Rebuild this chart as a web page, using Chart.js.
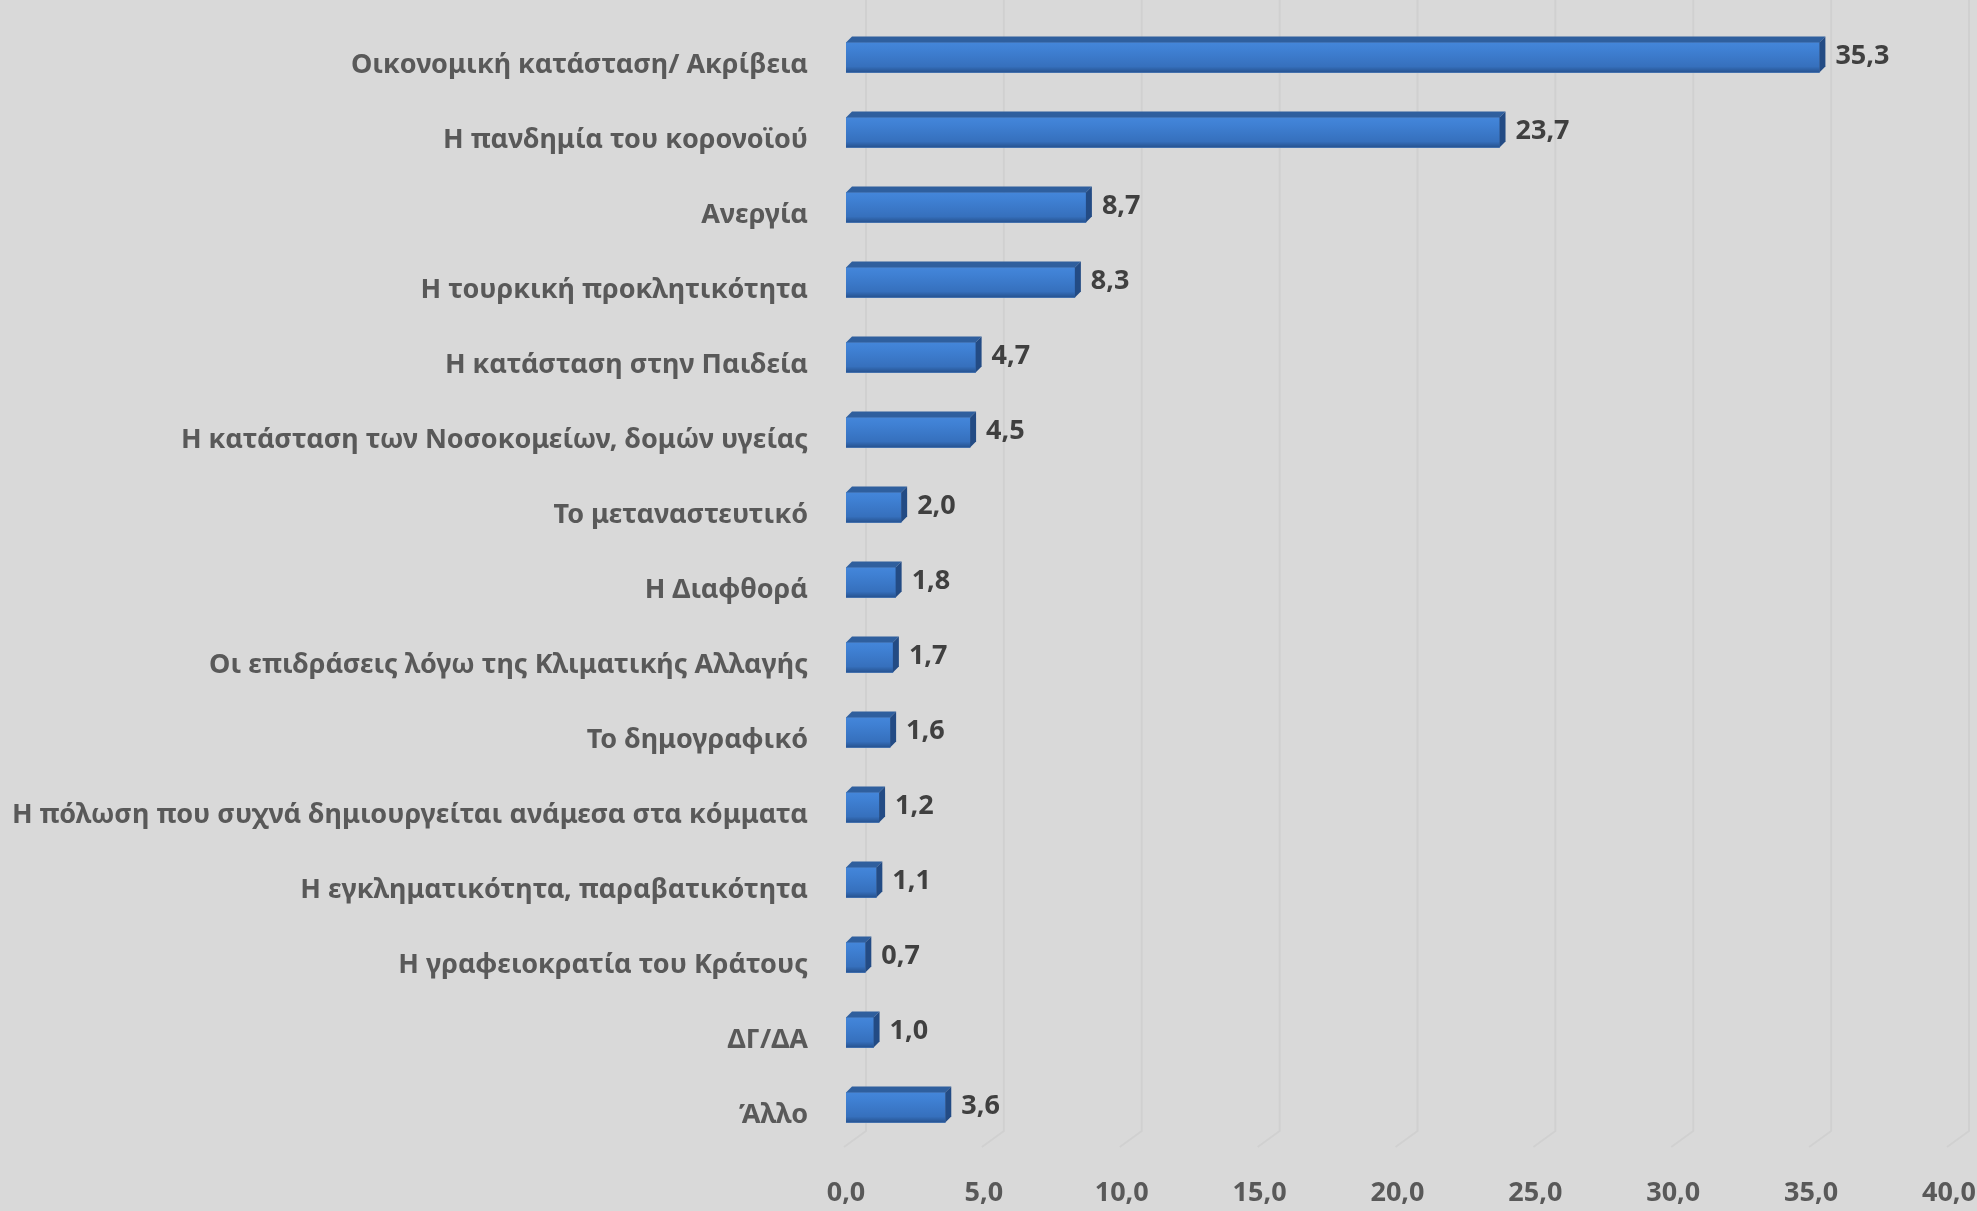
<!DOCTYPE html>
<html>
<head>
<meta charset="utf-8">
<script src="https://cdn.jsdelivr.net/npm/chart.js@4/dist/chart.umd.min.js"></script>
<style>
  html, body { margin: 0; padding: 0; background: #d9d9d9; }
  #wrap { width: 1977px; height: 1211px; }
</style>
</head>
<body>
<div id="wrap"><canvas id="myChart" width="1977" height="1211"></canvas></div>
<script>
const categories = [
  "Οικονομική κατάσταση/ Ακρίβεια",
  "Η πανδημία του κορονοϊού",
  "Ανεργία",
  "Η τουρκική προκλητικότητα",
  "Η κατάσταση στην Παιδεία",
  "Η κατάσταση των Νοσοκομείων, δομών υγείας",
  "Το μεταναστευτικό",
  "Η Διαφθορά",
  "Οι επιδράσεις λόγω της Κλιματικής Αλλαγής",
  "Το δημογραφικό",
  "Η πόλωση που συχνά δημιουργείται ανάμεσα στα κόμματα",
  "Η εγκληματικότητα, παραβατικότητα",
  "Η γραφειοκρατία του Κράτους",
  "ΔΓ/ΔΑ",
  "Άλλο",
];
const values = [35.3, 23.7, 8.7, 8.3, 4.7, 4.5, 2.0, 1.8, 1.7, 1.6, 1.2, 1.1, 0.7, 1.0, 3.6];
const xMin = 0;
const xMax = 40;
const xStep = 5;

const FONT = "'Noto Sans', sans-serif";
const depth = 6;

function fmt(v) {
  return v.toFixed(1).replace(".", ",");
}

// faint back-wall gridlines with a diagonal foot, like the 3D original
const backGrid = {
  id: "backGrid",
  beforeDatasetsDraw(chart) {
    const { ctx, chartArea, scales } = chart;
    const x = scales.x;
    ctx.save();
    ctx.strokeStyle = "rgba(0,0,0,0.04)";
    ctx.lineWidth = 2;
    for (let v = xMin; v <= xMax; v += xStep) {
      const px = x.getPixelForValue(v);
      ctx.beginPath();
      ctx.moveTo(px + 20, 0);
      ctx.lineTo(px + 20, chartArea.bottom - 14);
      ctx.lineTo(px - 2, chartArea.bottom + 2);
      ctx.stroke();
    }
    ctx.restore();
  },
};

// bevelled bars + value labels
const bars3d = {
  id: "bars3d",
  afterDatasetsDraw(chart) {
    const { ctx } = chart;
    const meta = chart.getDatasetMeta(0);
    ctx.save();
    meta.data.forEach((bar, i) => {
      const top = bar.y - bar.height / 2;
      const bottom = bar.y + bar.height / 2;
      const left = bar.base;
      const right = bar.x;

      const g = ctx.createLinearGradient(0, top, 0, bottom);
      g.addColorStop(0, "#4486da");
      g.addColorStop(0.25, "#3f80d3");
      g.addColorStop(0.8, "#3670bd");
      g.addColorStop(1, "#26528f");
      ctx.fillStyle = g;
      ctx.fillRect(left, top, right - left, bottom - top);

      // top face
      ctx.fillStyle = "#2f5f9e";
      ctx.beginPath();
      ctx.moveTo(left, top);
      ctx.lineTo(right, top);
      ctx.lineTo(right + depth, top - depth);
      ctx.lineTo(left + depth, top - depth);
      ctx.closePath();
      ctx.fill();

      // side face
      ctx.fillStyle = "#234b84";
      ctx.beginPath();
      ctx.moveTo(right, top);
      ctx.lineTo(right + depth, top - depth);
      ctx.lineTo(right + depth, bottom - depth);
      ctx.lineTo(right, bottom);
      ctx.closePath();
      ctx.fill();

      ctx.fillStyle = "#404040";
      ctx.font = "bold 27px " + FONT;
      ctx.textAlign = "left";
      ctx.textBaseline = "middle";
      ctx.fillText(fmt(values[i]), right + depth + 10, bar.y - 1);
    });
    ctx.restore();
  },
};

const data = {
  labels: categories,
  datasets: [
    {
      label: "",
      data: values,
      backgroundColor: "#3a76c4",
      borderWidth: 0,
      barThickness: 30,
    },
  ],
};

const config = {
  type: "bar",
  data: data,
  plugins: [backGrid, bars3d],
  options: {
    indexAxis: "y",
    responsive: false,
    animation: false,
    events: [],
    layout: { padding: { top: 20, right: 0, left: 10, bottom: 0 } },
    plugins: {
      legend: { display: false },
      tooltip: { enabled: false },
    },
    scales: {
      x: {
        min: xMin,
        max: xMax,
        border: { display: false },
        grid: { display: false, drawTicks: false },
        ticks: {
          stepSize: xStep,
          padding: 32,
          maxRotation: 0,
          color: "#595959",
          font: { family: FONT, size: 27, weight: "bold" },
          callback: (v) => fmt(v),
        },
        afterFit(scale) {
          scale.paddingRight = 28;
          scale.height = 66;
        },
      },
      y: {
        border: { display: false },
        grid: { display: false, drawTicks: false },
        ticks: {
          padding: 38,
          labelOffset: 8,
          color: "#595959",
          font: { family: FONT, size: 27, weight: "bold" },
        },
        afterFit(scale) {
          scale.paddingTop = 0;
          scale.paddingBottom = 0;
          scale.width = 836;
        },
      },
    },
  },
};

var myChart = new Chart(document.getElementById("myChart"), config);
</script>
</body>
</html>
